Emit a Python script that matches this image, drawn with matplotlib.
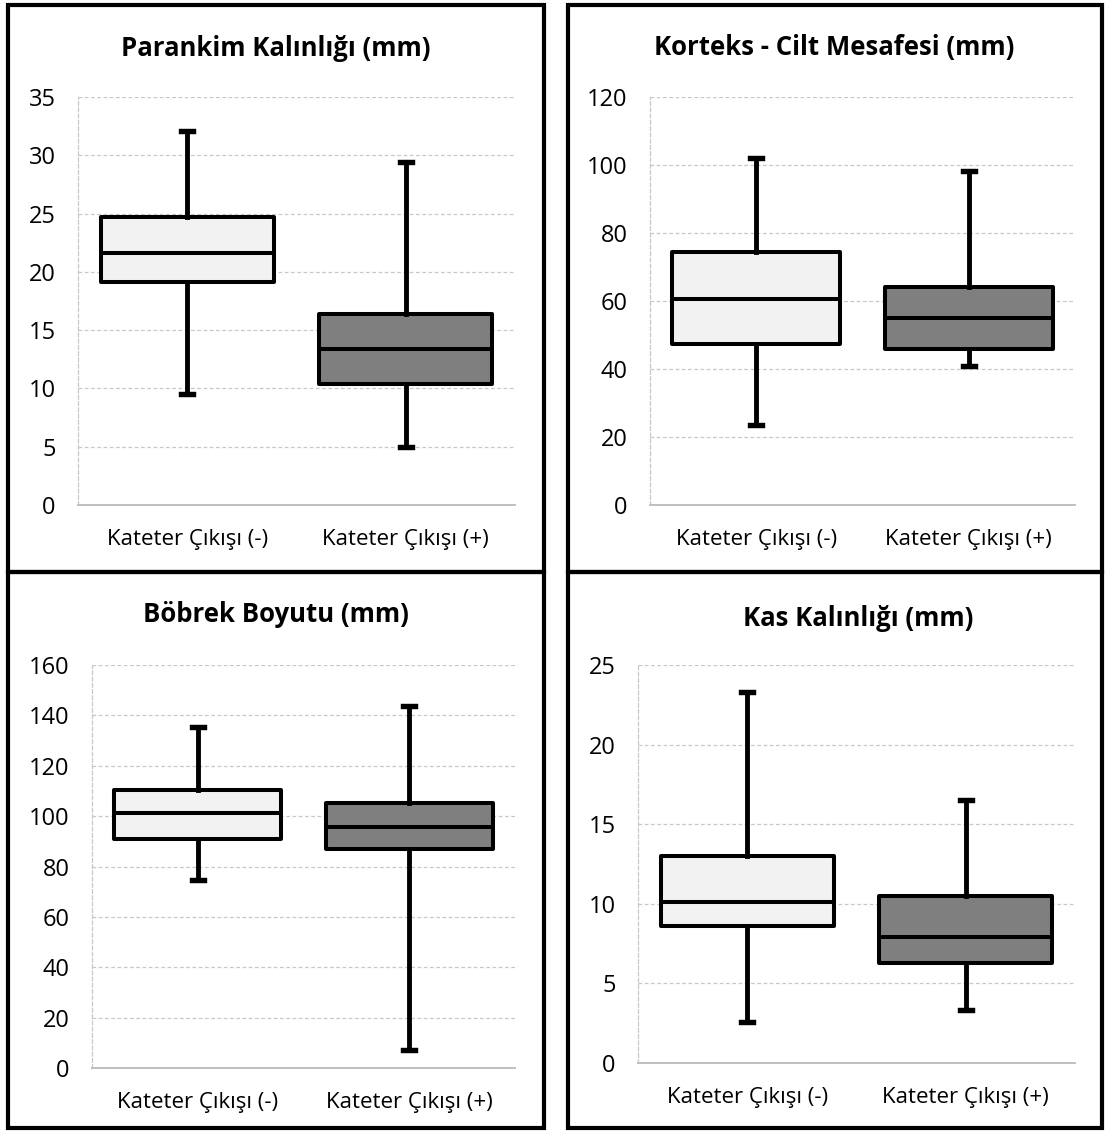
import matplotlib.pyplot as plt
from matplotlib.patches import Rectangle

plt.rcParams['font.family'] = ['Open Sans', 'DejaVu Sans']

W, H = 1105, 1131

categories = ['Kateter Çıkışı (-)', 'Kateter Çıkışı (+)']

titles = ['Parankim Kalınlığı (mm)', 'Korteks - Cilt Mesafesi (mm)',
          'Böbrek Boyutu (mm)', 'Kas Kalınlığı (mm)']

# each series: [whisker low, Q1, median, Q3, whisker high]
parankim_neg = [9.5, 19.1, 21.6, 24.7, 32.1]
parankim_pos = [5.0, 10.4, 13.4, 16.4, 29.4]
korteks_neg = [23.5, 47.3, 60.7, 74.3, 102.0]
korteks_pos = [41.0, 45.8, 55.0, 64.2, 98.3]
bobrek_neg = [74.5, 90.8, 101.2, 110.2, 135.5]
bobrek_pos = [7.0, 86.8, 95.5, 105.3, 143.8]
kas_neg = [2.6, 8.6, 10.1, 13.0, 23.3]
kas_pos = [3.3, 6.3, 7.9, 10.5, 16.5]

y_max = [35, 120, 160, 25]
y_step = [5, 20, 20, 5]

series = [(parankim_neg, parankim_pos), (korteks_neg, korteks_pos),
          (bobrek_neg, bobrek_pos), (kas_neg, kas_pos)]

fills = ['#f2f2f2', '#7f7f7f']

# pixel boxes: (left, right, top, bottom)
panel_px = [(8, 544, 5, 572), (568, 1102, 5, 572),
            (8, 544, 572, 1128), (568, 1102, 572, 1128)]
axes_px = [(78, 515, 97, 505), (650, 1075, 97, 505),
           (92, 515, 665, 1068), (638, 1075, 665, 1063)]
title_y = [48, 48, 614, 618]
title_x = [276, 834, 276, 858]

fig = plt.figure(figsize=(W / 100, H / 100), dpi=100)

for (l, r, t, b) in panel_px:
    fig.patches.append(Rectangle((l / W, 1 - b / H), (r - l) / W, (b - t) / H,
                                 transform=fig.transFigure, fill=False,
                                 edgecolor='black', linewidth=3, zorder=10))

for i in range(4):
    l, r, t, b = axes_px[i]
    ax = fig.add_axes([l / W, 1 - b / H, (r - l) / W, (b - t) / H])
    stats = []
    for k, s in enumerate(series[i]):
        stats.append(dict(whislo=s[0], q1=s[1], med=s[2], q3=s[3], whishi=s[4],
                          label=categories[k]))
    bp = ax.bxp(stats, positions=[1, 2], widths=0.79, patch_artist=True,
                showfliers=False, capwidths=0.055,
                boxprops=dict(linewidth=2.9, edgecolor='black', joinstyle='round'),
                medianprops=dict(color='black', linewidth=2.9),
                whiskerprops=dict(color='black', linewidth=3.5),
                capprops=dict(color='black', linewidth=3.9))
    for patch, c in zip(bp['boxes'], fills):
        patch.set_facecolor(c)
    ax.set_xlim(0.5, 2.5)
    ax.set_ylim(0, y_max[i])
    ax.set_yticks(range(0, y_max[i] + 1, y_step[i]))
    ax.tick_params(axis='y', length=0, labelsize=17, pad=16)
    ax.tick_params(axis='x', length=0, labelsize=16, pad=17)
    ax.yaxis.grid(True, color='#c8c8c8', linestyle=(0, (3, 2)), linewidth=0.9)
    ax.set_axisbelow(True)
    for side in ['top', 'right']:
        ax.spines[side].set_visible(False)
    ax.spines['left'].set_color('#c8c8c8')
    ax.spines['left'].set_linestyle((0, (3, 2)))
    ax.spines['left'].set_linewidth(0.9)
    ax.spines['bottom'].set_color('#bfbfbf')
    ax.spines['bottom'].set_linewidth(1.4)
    fig.text(title_x[i] / W, 1 - title_y[i] / H, titles[i], ha='center',
             va='center', fontsize=18.5, fontweight='bold')

fig.savefig('out.png', dpi=100)
